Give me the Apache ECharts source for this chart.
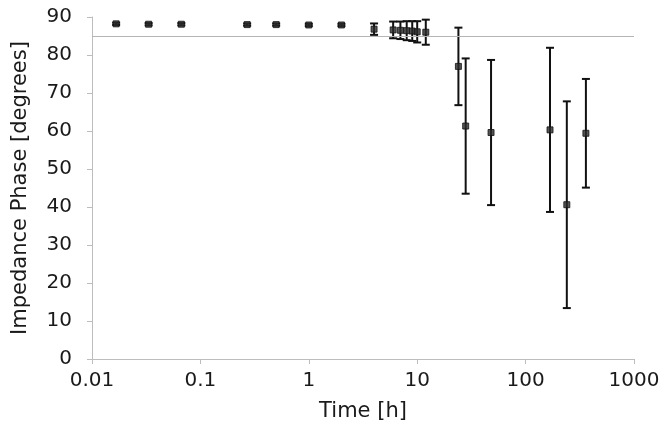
<!DOCTYPE html>
<html>
<head>
<meta charset="utf-8">
<script src="https://cdn.jsdelivr.net/npm/echarts@6/dist/echarts.min.js"></script>
<style>
  html, body { margin: 0; padding: 0; background: #fff; }
  #chart { width: 670px; height: 436px; }
</style>
</head>
<body>
<div id="chart"></div>
<script>
// time in hours (log axis)
var times = [0.0167, 0.0333, 0.0667, 0.27, 0.5, 1, 2, 4, 6, 7, 8, 9, 10, 12, 24, 28, 48, 168, 240, 360];
// mean impedance phase [degrees]
var phase = [88.2, 88.1, 88.1, 88.0, 88.0, 87.9, 87.9, 86.8, 86.6, 86.5, 86.4, 86.3, 86.1, 86.0, 77.0, 61.3, 59.6, 60.3, 40.6, 59.4];
// error bar half length
var errs = [0.3, 0.3, 0.3, 0.3, 0.3, 0.3, 0.3, 1.5, 2.2, 2.3, 2.5, 2.6, 2.8, 3.3, 10.2, 17.8, 19.1, 21.6, 27.2, 14.3];
var refLine = 85;
var xTicks = [0.01, 0.1, 1, 10, 100, 1000];

var font = 'DejaVu Sans';
var ink = '#1a1a1a';

var points = times.map(function (t, i) { return [t, phase[i]]; });
var bars = times.map(function (t, i) { return [t, phase[i] - errs[i], phase[i] + errs[i]]; });

var chart = echarts.init(document.getElementById('chart'));
chart.setOption({
  animation: false,
  backgroundColor: '#fff',
  grid: { left: 92, right: 36, top: 17, bottom: 77 },
  xAxis: {
    type: 'log',
    logBase: 10,
    min: 0.01,
    max: 1000,
    name: 'Time [h]',
    nameLocation: 'middle',
    nameGap: 42,
    nameTextStyle: { fontFamily: font, fontSize: 21, color: ink },
    axisLine: { lineStyle: { color: '#bdbdbd', width: 1 } },
    axisTick: { show: true, length: 5, lineStyle: { color: '#bdbdbd' } },
    minorTick: { show: false },
    splitLine: { show: false },
    axisLabel: {
      fontFamily: font, fontSize: 20, color: ink, margin: 12,
      formatter: function (v) {
        for (var i = 0; i < xTicks.length; i++) {
          if (Math.abs(v - xTicks[i]) / xTicks[i] < 1e-6) return String(xTicks[i]);
        }
        return '';
      }
    }
  },
  yAxis: {
    type: 'value',
    min: 0,
    max: 90,
    interval: 10,
    name: 'Impedance Phase [degrees]',
    nameLocation: 'middle',
    nameGap: 61,
    nameTextStyle: { fontFamily: font, fontSize: 21, color: ink },
    axisLine: { show: true, lineStyle: { color: '#bdbdbd', width: 1 } },
    axisTick: { show: true, length: 5, lineStyle: { color: '#bdbdbd' } },
    splitLine: { show: false },
    axisLabel: { fontFamily: font, fontSize: 20, color: ink, margin: 20 }
  },
  series: [
    {
      type: 'custom',
      name: 'error',
      z: 2,
      renderItem: function (params, api) {
        var x = api.value(0);
        var lo = api.coord([x, api.value(1)]);
        var hi = api.coord([x, api.value(2)]);
        var w = 4;
        var st = { stroke: '#111', lineWidth: 2 };
        return {
          type: 'group',
          children: [
            { type: 'line', shape: { x1: lo[0], y1: lo[1], x2: hi[0], y2: hi[1] }, style: st },
            { type: 'line', shape: { x1: lo[0] - w, y1: lo[1], x2: lo[0] + w, y2: lo[1] }, style: st },
            { type: 'line', shape: { x1: hi[0] - w, y1: hi[1], x2: hi[0] + w, y2: hi[1] }, style: st }
          ]
        };
      },
      encode: { x: 0, y: [1, 2] },
      data: bars
    },
    {
      type: 'scatter',
      name: 'phase',
      z: 3,
      symbol: 'rect',
      symbolSize: [6, 6],
      itemStyle: { color: '#2a2a2a', borderColor: '#111', borderWidth: 1 },
      data: points,
      markLine: {
        silent: true,
        symbol: 'none',
        label: { show: false },
        lineStyle: { color: '#b5b5b5', width: 1, type: 'solid' },
        data: [{ yAxis: refLine }]
      }
    }
  ]
});
</script>
</body>
</html>
